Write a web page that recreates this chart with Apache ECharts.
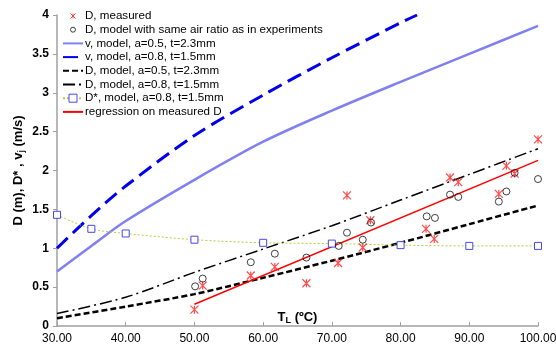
<!DOCTYPE html>
<html><head><meta charset="utf-8">
<script src="https://cdn.jsdelivr.net/npm/echarts@6/dist/echarts.min.js"></script>
<style>html,body{margin:0;padding:0;background:#fff}#c{width:556px;height:348px}</style>
</head><body><div id="c"></div>
<script>
// Measured D
const measT = [50.0,51.2,58.2,61.7,66.3,70.9,72.2,74.5,75.6,83.7,84.9,87.2,88.4,94.3,95.4,96.6,100.0];
const measD = [0.21,0.52,0.65,0.76,0.55,0.81,1.68,1.01,1.36,1.25,1.12,1.91,1.85,1.70,2.06,1.96,2.40];
// Model D with same air ratio as experiments
const modT = [50.1,51.2,58.2,61.7,66.3,71.0,72.2,74.5,75.7,83.8,85.0,87.2,88.4,94.3,95.4,96.6,100.0];
const modD = [0.51,0.61,0.82,0.93,0.88,1.03,1.20,1.11,1.33,1.41,1.39,1.69,1.66,1.60,1.73,1.97,1.89];
// v, model, a=0.5, t=2.3mm
const vA5T = [30,35,40,50,60,70,80,90,100];
const vA5 = [0.70,1.03,1.35,1.88,2.37,2.77,3.14,3.50,3.86];
// v, model, a=0.8, t=1.5mm
const vA8T = [30,35,40,50,60,70,80,82.4];
const vA8 = [1.00,1.42,1.80,2.45,2.97,3.45,3.90,4.00];
// D, model, a=0.5, t=2.3mm
const dA5T = [30,40,50,60,70,80,90,100];
const dA5 = [0.10,0.25,0.41,0.62,0.84,1.07,1.31,1.55];
// D, model, a=0.8, t=1.5mm
const dA8T = [30,40,50,60,70,80,90,100];
const dA8 = [0.16,0.37,0.69,0.99,1.29,1.62,1.95,2.28];
// D*, model, a=0.8, t=1.5mm
const dStarT = [30,35,40,50,60,70,80,90,100];
const dStar = [1.43,1.25,1.19,1.11,1.07,1.06,1.04,1.03,1.03];
// regression on measured D
const regT = [50,100];
const regD = [0.28,2.13];
// axis ticks
const xTicks = [30,40,50,60,70,80,90,100];
const yTicks = [0,0.5,1,1.5,2,2.5,3,3.5,4];

const zip = (a,b) => a.map((v,i)=>[v,b[i]]);
const FONT = 'Liberation Sans, Arial, sans-serif';
const starP = 'M0,0L10,10M10,0L0,10M5,0L5,10';
const circP = 'M0,5A5,5 0 1 1 10,5A5,5 0 1 1 0,5Z';
const sqP = 'M0,0L10,0L10,10L0,10Z';
const PAD = 'M-5,-5M15,15';
const NOFILL = 'rgba(0,0,0,0)';

const names = ['D, measured','D, model with same air ratio as in experiments','v, model, a=0.5, t=2.3mm','v, model, a=0.8, t=1.5mm','D, model, a=0.5, t=2.3mm','D, model, a=0.8, t=1.5mm','D*, model, a=0.8, t=1.5mm','regression on measured D'];

const chart = echarts.init(document.getElementById('c'), null, {renderer:'canvas'});
chart.setOption({
  animation:false,
  textStyle:{fontFamily:FONT},
  grid:{left:57,right:18,top:15,bottom:22,containLabel:false,outerBoundsMode:'none'},
  legend:{
    orient:'vertical', left:62, top:10, padding:0, itemGap:1.7, itemWidth:20, itemHeight:10,
    textStyle:{fontFamily:FONT,fontSize:11.6,lineHeight:12,color:'#000',padding:[0,0,0,-3]},
    data:[
      {name:names[0],icon:'path://'+PAD+starP,itemStyle:{borderWidth:1}},
      {name:names[1],icon:'path://'+PAD+circP,itemStyle:{borderWidth:1}},
      names[2],names[3],names[4],names[5],
      {name:names[6],itemStyle:{borderWidth:1}},
      names[7]
    ]
  },
  xAxis:{
    type:'value', min:xTicks[0], max:xTicks[xTicks.length-1], interval:10,
    axisLine:{lineStyle:{color:'#a0a0a0',width:1.5}},
    axisTick:{inside:true,length:4,lineStyle:{color:'#a0a0a0'}},
    splitLine:{show:false},
    axisLabel:{formatter:v=>v.toFixed(2),fontSize:12,color:'#000',margin:7,fontFamily:FONT},
    name:'{a|T}{b|L}{a| (ºC)}', nameLocation:'middle', nameGap:-17, nameMoveOverlap:false,
    nameTextStyle:{rich:{a:{fontSize:13,fontWeight:'bold',color:'#000',fontFamily:FONT},b:{fontSize:9,fontWeight:'bold',color:'#000',fontFamily:FONT,padding:[7,0,0,0]}}}
  },
  yAxis:{
    type:'value', min:yTicks[0], max:yTicks[yTicks.length-1], interval:0.5,
    axisLine:{show:true,lineStyle:{color:'#a0a0a0',width:1.5}},
    axisTick:{show:true,length:4,lineStyle:{color:'#a0a0a0'}},
    splitLine:{show:false},
    axisLabel:{fontSize:12,fontWeight:'bold',color:'#000',margin:8,fontFamily:FONT},
    name:'{a|D (m), D* , v}{b|j}{a| (m/s)}', nameLocation:'middle', nameRotate:90, nameGap:31, nameMoveOverlap:false,
    nameTextStyle:{rich:{a:{fontSize:13,fontWeight:'bold',color:'#000',fontFamily:FONT},b:{fontSize:9,fontWeight:'bold',color:'#000',fontFamily:FONT,padding:[7,0,0,0]}}}
  },
  series:[
    {name:names[0],type:'scatter',data:zip(measT,measD),symbol:'path://'+starP,symbolSize:8,z:5,symbolKeepAspect:true,
      itemStyle:{color:NOFILL,borderColor:'#ff2020',borderWidth:1.2}},
    {name:names[1],type:'scatter',data:zip(modT,modD),symbol:'path://'+circP,symbolSize:7,z:5,symbolKeepAspect:true,
      itemStyle:{color:NOFILL,borderColor:'#111',borderWidth:1}},
    {name:names[2],type:'line',data:zip(vA5T,vA5),symbol:'none',smooth:0.3,
      lineStyle:{color:'#8080f0',width:2.5},itemStyle:{color:NOFILL}},
    {name:names[3],type:'line',data:zip(vA8T,vA8),symbol:'none',smooth:0.3,
      lineStyle:{color:'#0000ee',width:3,type:[15,7]},itemStyle:{color:NOFILL}},
    {name:names[4],type:'line',data:zip(dA5T,dA5),symbol:'none',smooth:0.3,
      lineStyle:{color:'#000',width:2.5,type:[6,3]},itemStyle:{color:NOFILL}},
    {name:names[5],type:'line',data:zip(dA8T,dA8),symbol:'none',smooth:0.3,
      lineStyle:{color:'#000',width:1.5,type:[12,4,2,4]},itemStyle:{color:NOFILL}},
    {name:names[6],type:'line',data:zip(dStarT,dStar),symbol:'path://'+sqP,symbolSize:7,smooth:0.3,z:4,
      lineStyle:{color:'#b0d040',width:1,type:[2,2]},itemStyle:{color:'#fff',borderColor:'#4848e8',borderWidth:1}},
    {name:names[7],type:'line',data:zip(regT,regD),symbol:'none',
      lineStyle:{color:'#ff0000',width:1.5},itemStyle:{color:NOFILL}}
  ]
});
</script></body></html>
